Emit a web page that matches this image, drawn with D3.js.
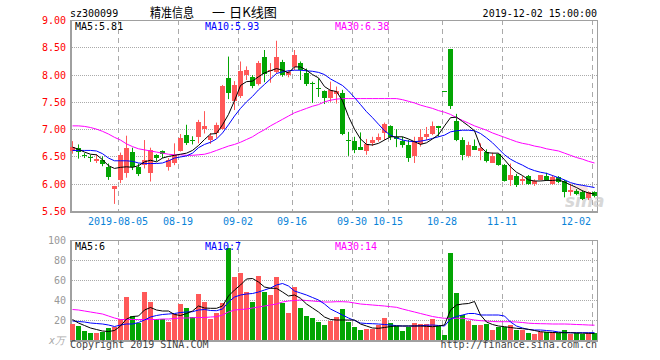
<!DOCTYPE html>
<html>
<head>
<meta charset="utf-8">
<script src="https://d3js.org/d3.v7.min.js"></script>
<style>
body{margin:0;background:#fff;}
text{font-family:"DejaVu Sans Mono","Liberation Mono",monospace;font-size:10px;}
</style>
</head>
<body>
<svg id="chart" width="660" height="360"></svg>
<script>
// trading days shown (sz300099, daily K)
const dates = [
 "2019-07-24","2019-07-25","2019-07-26","2019-07-29","2019-07-30","2019-07-31",
 "2019-08-01","2019-08-02","2019-08-05","2019-08-06","2019-08-07","2019-08-08","2019-08-09","2019-08-12","2019-08-13","2019-08-14","2019-08-15","2019-08-16","2019-08-19","2019-08-20","2019-08-21","2019-08-22","2019-08-23","2019-08-26","2019-08-27","2019-08-28","2019-08-29","2019-08-30",
 "2019-09-02","2019-09-03","2019-09-04","2019-09-05","2019-09-06","2019-09-09","2019-09-10","2019-09-11","2019-09-12","2019-09-16","2019-09-17","2019-09-18","2019-09-19","2019-09-20","2019-09-23","2019-09-24","2019-09-25","2019-09-26","2019-09-27","2019-09-30",
 "2019-10-08","2019-10-09","2019-10-10","2019-10-11","2019-10-14","2019-10-15","2019-10-16","2019-10-17","2019-10-18","2019-10-21","2019-10-22","2019-10-23","2019-10-24","2019-10-25","2019-10-28","2019-10-29","2019-10-30","2019-10-31",
 "2019-11-01","2019-11-04","2019-11-05","2019-11-06","2019-11-07","2019-11-08","2019-11-11","2019-11-12","2019-11-13","2019-11-14","2019-11-15","2019-11-18","2019-11-19","2019-11-20","2019-11-21","2019-11-22","2019-11-25","2019-11-26","2019-11-27","2019-11-28","2019-11-29",
 "2019-12-02"];

const open = [6.59,6.66,6.52,6.49,6.41,6.43,6.31,5.90,6.08,6.20,
 6.58,6.31,6.34,6.19,6.52,6.60,6.31,6.37,6.61,6.89,
 6.80,6.86,7.01,6.80,6.93,7.01,7.93,7.50,7.61,7.99,
 7.96,7.83,8.33,8.06,8.05,8.23,7.99,8.14,8.21,8.02,
 7.85,7.76,7.69,7.58,7.63,7.67,6.80,6.78,6.68,6.60,
 6.75,6.81,6.92,7.06,6.86,6.79,6.71,6.51,6.73,6.86,
 6.91,7.06,7.70,8.47,7.15,6.80,6.50,6.69,6.60,6.59,
 6.39,6.54,6.34,6.07,6.15,6.06,6.15,6.00,6.06,6.15,
 6.00,6.12,6.05,5.84,5.87,5.85,5.73,5.84];
const high = [6.78,6.72,6.56,6.53,6.54,6.50,6.37,5.96,6.57,6.88,
 6.66,6.37,6.80,6.66,6.54,6.61,6.47,6.74,6.91,7.08,
 6.87,7.17,7.33,6.93,7.12,7.81,8.33,7.88,8.24,8.15,
 7.99,8.25,8.45,8.21,8.62,8.27,8.08,8.45,8.24,8.11,
 7.87,7.93,7.71,7.87,7.78,7.72,6.95,6.86,6.94,6.82,
 6.86,6.92,7.12,7.07,7.00,6.86,6.80,6.86,7.00,7.04,
 7.14,7.06,7.70,8.47,7.28,6.85,6.77,6.81,6.74,6.63,
 6.57,6.55,6.36,6.37,6.18,6.14,6.16,6.08,6.16,6.20,
 6.16,6.14,6.07,6.00,5.90,5.88,5.86,5.86];
const low = [6.55,6.46,6.47,6.40,6.38,6.32,6.07,5.63,6.01,6.11,
 6.25,6.14,6.28,6.04,6.41,6.47,6.24,6.34,6.59,6.71,
 6.72,6.74,6.92,6.73,6.84,6.99,7.55,7.35,7.57,7.90,
 7.75,7.80,7.86,7.85,8.02,7.96,7.95,8.08,7.90,7.79,
 7.48,7.59,7.46,7.50,7.47,6.89,6.51,6.56,6.62,6.53,
 6.69,6.77,6.80,6.80,6.67,6.66,6.40,6.38,6.68,6.80,
 6.89,6.86,7.70,7.37,6.78,6.43,6.48,6.62,6.43,6.39,
 6.39,6.33,6.04,5.96,5.94,5.98,5.98,5.96,6.06,6.05,
 5.98,6.01,5.75,5.78,5.79,5.70,5.70,5.75];
const close = [6.67,6.58,6.51,6.48,6.45,6.36,6.13,5.95,6.53,6.66,
 6.30,6.19,6.43,6.62,6.47,6.54,6.43,6.52,6.84,6.75,
 6.79,7.14,7.06,6.88,7.08,7.79,7.66,7.80,8.07,8.08,
 7.80,8.21,8.02,8.08,8.33,7.99,8.05,8.36,8.08,7.82,
 7.84,7.74,7.57,7.72,7.69,6.91,6.78,6.62,6.62,6.73,
 6.81,6.86,7.09,6.85,6.83,6.71,6.48,6.79,6.86,6.92,
 7.06,7.02,7.70,7.43,6.80,6.53,6.71,6.62,6.66,6.43,
 6.51,6.34,6.05,6.16,5.98,6.09,6.00,6.05,6.16,6.07,
 6.12,6.02,5.84,5.88,5.81,5.73,5.84,5.76];

// volume, in 万 shares
const volume = [16,14,9,7.3,7.3,8.3,12.3,13.3,21,43.3,
 24,16.7,48.3,38.3,21,21,18.3,26,36,32.3,
 23.3,46,38.3,21,27.3,37.3,91.7,63.3,67.3,48.3,
 38.3,64,48.3,45,63.3,36.7,27.3,53.3,32.3,24.3,
 22.3,18.3,15,19.5,23,31,18.3,13,10,11,
 11,15,22,17,14,9,13,17,16,16,
 21,14,5,87,47.3,25,19,15,15,16,
 10,13.3,13.3,15,10,10,7,6,8,8,
 8,7,10,6,7,6,7,7];

// moving averages as drawn on the chart
const ma5 = [6.67,6.63,6.58,6.54,6.53,6.44,6.33,6.28,6.30,6.31,
 6.30,6.33,6.40,6.43,6.40,6.47,6.50,6.52,6.54,6.56,
 6.61,6.70,6.81,6.91,6.92,7.08,7.27,7.52,7.80,7.87,
 7.88,7.96,8.03,8.07,8.11,8.08,8.03,8.14,8.14,8.08,
 8.00,7.94,7.78,7.71,7.69,7.52,7.23,7.00,6.82,6.72,
 6.71,6.74,6.80,6.86,6.86,6.86,6.82,6.77,6.72,6.75,
 6.82,6.90,7.06,7.21,7.22,7.14,7.06,6.97,6.68,6.57,
 6.56,6.56,6.44,6.31,6.21,6.15,6.07,6.05,6.05,6.06,
 6.06,6.07,6.03,5.98,5.93,5.87,5.83,5.81];
const ma10 = [6.61,6.61,6.61,6.61,6.60,6.55,6.47,6.42,6.42,6.42,
 6.41,6.38,6.37,6.37,6.37,6.38,6.42,6.47,6.49,6.51,
 6.56,6.66,6.72,6.76,6.82,6.93,7.08,7.24,7.38,7.50,
 7.60,7.72,7.82,7.92,8.02,8.05,8.07,8.08,8.08,8.07,
 8.06,8.04,8.00,7.92,7.86,7.80,7.70,7.58,7.45,7.32,
 7.21,7.09,6.97,6.89,6.84,6.80,6.78,6.77,6.78,6.80,
 6.83,6.86,6.89,6.95,6.97,6.98,6.98,6.97,6.92,6.84,
 6.75,6.64,6.53,6.45,6.39,6.34,6.28,6.24,6.21,6.19,
 6.15,6.11,6.07,6.02,5.99,5.97,5.95,5.93];
const ma30 = [7.06,7.06,7.05,7.03,7.00,6.96,6.91,6.85,6.80,6.73,
 6.68,6.64,6.62,6.60,6.58,6.56,6.54,6.53,6.53,6.52,
 6.52,6.53,6.54,6.57,6.61,6.65,6.69,6.72,6.76,6.81,
 6.86,6.93,6.99,7.06,7.12,7.18,7.24,7.30,7.34,7.38,
 7.42,7.45,7.50,7.53,7.55,7.56,7.56,7.56,7.56,7.56,
 7.56,7.56,7.56,7.56,7.56,7.54,7.51,7.48,7.44,7.41,
 7.38,7.34,7.31,7.27,7.21,7.16,7.11,7.06,7.02,6.98,
 6.93,6.89,6.85,6.81,6.77,6.74,6.72,6.69,6.67,6.64,
 6.62,6.60,6.56,6.52,6.48,6.45,6.41,6.38];

const vma5 = [20.5,17,14.5,12,10.5,9,8.5,9.5,14,21,
 23.5,24,30,32.5,30,29,29,25.5,24.5,26.5,
 29,34,32,31.7,31.7,34,44,50,55,61,
 61.5,58,53,51.7,51.7,48,44,45,41.7,36,
 32,28,23,20.5,20,20,20,20,16,14,
 12,11.7,12.5,13.5,14,14,14,14,14,13.7,
 13.3,14,15,30,35,36,36.5,38.5,25,18,
 15.5,14,13.3,12.5,11.7,11.3,10.7,9.5,8.3,7.8,
 7.5,7.3,7.3,7.2,7,6.8,6.7,6.6];
const vma10 = [19,18.5,18,17,16.5,16,15,13.5,15,16,
 16,17.5,20,23,24.5,25.5,26,26.5,27.5,28,
 28.3,30,30.5,29.5,29.3,31,38,43,45,46,
 46.5,48,50,52,55,56.5,54,49,47,45,
 42.5,40,36,31,28,25,22,19.5,17,16.5,
 16.3,16,15.5,15,14.3,14,14,14,14.3,14.7,
 15,14.5,14,21,23.5,25,26.5,26.5,25,25,
 25,25,24,18,14,12,10.5,10,10,9.5,
 9,8,7.5,7.3,7.3,7.3,7.3,7.3];
const vma30 = [30.5,30,29,28,27,26,24,22,20.5,20.5,
 20.5,20.5,20.5,20.5,20.5,21,21,21.5,22,22,
 22.3,22.5,22.5,23,23.3,25,28,30,30.5,31,
 32,33,34,35,36,38,39,39.5,40,39.5,
 39,38.5,38,38,38.3,38.3,38,37,36,35.5,
 35,34.5,34,33.3,32.7,31,29.5,28,26.5,25,
 23.5,22.5,21.7,21.7,21.7,21.7,21,20,19.3,19,
 18.5,18.3,18.3,18.3,18,17.5,16.8,16.5,16.3,16.2,
 16,16,16,15.8,15.5,15.3,15,14.8];

const tickDates = ["2019-08-05","2019-08-19","2019-09-02","2019-09-16","2019-09-30","2019-10-15","2019-10-28","2019-11-11","2019-12-02"];
const tickLabels = ["2019-08-05","08-19","09-02","09-16","09-30","10-15","10-28","11-11","12-02"];
const priceTicks = [5.5,6.0,6.5,7.0,7.5,8.0,8.5,9.0];
const volTicks = [20,40,60,80,100];

var svg = d3.select('#chart');
const W = +svg.attr('width');
const H = +svg.attr('height');

const RED = '#ff5858';
const GREEN = '#03a503';
const GRID = '#aaaaaa';
const FRAME = '#a0a0a0';

const L = 70, R = 597;
const pTop = 20, pBot = 211;
const vTop = 240, vBot = 340;

const x = d3.scaleBand().domain(dates).range([L, L + 6 * dates.length]).padding(0);
const yP = d3.scaleLinear().domain([5.5, 9]).range([pBot, pTop]);
const yV = d3.scaleLinear().domain([0, 100]).range([vBot, vTop]);
const bw = x.bandwidth() - 1;
const cx = d => x(d) + bw / 2;

const render = () => {
    // header texts
    svg.append('text').text('sz300099').attr('x', 70).attr('y', 16.5).attr('fill', '#000');
    const cjk = '"Noto Sans CJK SC", sans-serif';
    svg.append('text').text('精准信息').attr('x', 150).attr('y', 17)
        .attr('textLength', 44).attr('lengthAdjust', 'spacingAndGlyphs')
        .style('font-family', cjk).style('font-size', '13px').attr('fill', '#000');
    svg.append('text').text('一').attr('x', 212).attr('y', 17)
        .style('font-family', cjk).style('font-size', '13px').attr('fill', '#000');
    svg.append('text').text('日K线图').attr('x', 229).attr('y', 17)
        .attr('textLength', 48).attr('lengthAdjust', 'spacingAndGlyphs')
        .style('font-family', cjk).style('font-size', '13px').attr('fill', '#000');
    svg.append('text').text('2019-12-02 15:00:00')
        .attr('x', 597).attr('y', 16.5).attr('text-anchor', 'end').attr('fill', '#000');

    const panels = [[pTop, pBot], [vTop, vBot]];

    // horizontal dotted grid
    svg.selectAll('.pgrid').data(priceTicks.filter(t => t > 5.5 && t < 9))
        .enter().append('line').classed('pgrid', true)
        .attr('x1', L).attr('x2', R)
        .attr('y1', d => Math.round(yP(d)) + 0.5).attr('y2', d => Math.round(yP(d)) + 0.5)
        .style('stroke', GRID).style('stroke-dasharray', '1,1');
    svg.selectAll('.vgrid').data(volTicks.filter(t => t < 100))
        .enter().append('line').classed('vgrid', true)
        .attr('x1', L).attr('x2', R)
        .attr('y1', d => Math.round(yV(d)) + 0.5).attr('y2', d => Math.round(yV(d)) + 0.5)
        .style('stroke', GRID).style('stroke-dasharray', '1,1');

    // vertical dashed date lines in both panels
    panels.forEach(p => {
        svg.append('g').selectAll('line').data(tickDates)
            .enter().append('line')
            .attr('x1', d => x(d) + 0.5).attr('x2', d => x(d) + 0.5)
            .attr('y1', p[0]).attr('y2', p[1])
            .style('stroke', GRID).style('stroke-dasharray', '5,4');
    });

    // frames
    panels.forEach(p => {
        svg.append('rect').attr('x', L + 0.5).attr('y', p[0] + 0.5)
            .attr('width', R - L).attr('height', p[1] - p[0])
            .attr('fill', 'none').style('stroke', FRAME);
        svg.append('line').attr('x1', L + 1).attr('x2', L + 1).attr('y1', p[0]).attr('y2', p[1] + 2)
            .style('stroke', FRAME).style('stroke-width', 2);
        svg.append('line').attr('x1', L).attr('x2', R + 1).attr('y1', p[1] + 1).attr('y2', p[1] + 1)
            .style('stroke', FRAME).style('stroke-width', 2);
    });

    // y labels
    svg.selectAll('.plab').data(priceTicks).enter().append('text').classed('plab', true)
        .text(d => d.toFixed(2))
        .attr('x', 66).attr('y', d => yP(d) + 4)
        .attr('text-anchor', 'end').attr('fill', '#ff0000');
    svg.selectAll('.vlab').data(volTicks).enter().append('text').classed('vlab', true)
        .text(d => d)
        .attr('x', 66).attr('y', d => yV(d) + 4)
        .attr('text-anchor', 'end').attr('fill', '#999');
    svg.append('text').text('x万').attr('x', 49).attr('y', 344)
        .attr('fill', '#aaa').style('font-style', 'italic');

    // date labels, kept inside the plot on the right
    svg.selectAll('.dlab').data(tickDates).enter().append('text').classed('dlab', true)
        .text((d, i) => tickLabels[i])
        .attr('x', (d, i) => Math.min(x(d), 591 - tickLabels[i].length * 3))
        .attr('y', 225).attr('text-anchor', 'middle').attr('fill', '#0a83d8');

    // watermark
    svg.append('ellipse').attr('cx', 579).attr('cy', 189).attr('rx', 9).attr('ry', 4)
        .attr('fill', '#f6b5b5').attr('opacity', 0.4);
    svg.append('text').text('sina').attr('x', 565).attr('y', 207)
        .style('font-family', '"DejaVu Sans", sans-serif').style('font-size', '17px')
        .style('font-style', 'italic').style('font-weight', 'bold')
        .attr('fill', '#c8c8c8').attr('opacity', 0.7);

    const up = i => close[i] > open[i];

    // candles
    const g = svg.append('g');
    g.selectAll('.wick').data(dates).enter().append('line').classed('wick', true)
        .attr('x1', d => Math.floor(cx(d)) + 0.5).attr('x2', d => Math.floor(cx(d)) + 0.5)
        .attr('y1', (d, i) => yP(high[i])).attr('y2', (d, i) => yP(low[i]))
        .style('stroke', (d, i) => up(i) ? RED : GREEN);
    g.selectAll('.body').data(dates).enter().append('rect').classed('body', true)
        .attr('x', d => x(d))
        .attr('y', (d, i) => Math.round(yP(Math.max(open[i], close[i]))))
        .attr('width', bw)
        .attr('height', (d, i) => Math.max(1, Math.round(Math.abs(yP(open[i]) - yP(close[i])))))
        .attr('fill', (d, i) => up(i) ? RED : GREEN);

    // volume bars
    g.selectAll('.vol').data(dates).enter().append('rect').classed('vol', true)
        .attr('x', d => x(d))
        .attr('y', (d, i) => Math.round(yV(volume[i])))
        .attr('width', bw)
        .attr('height', (d, i) => vBot - Math.round(yV(volume[i])))
        .attr('fill', (d, i) => up(i) ? RED : GREEN);

    // moving average lines
    const lineP = d3.line().x((d, i) => cx(dates[i])).y(d => yP(d));
    const lineV = d3.line().x((d, i) => cx(dates[i])).y(d => yV(d));
    [[ma30, '#ff00ff'], [ma10, '#0000ff'], [ma5, '#000000']].forEach(m => {
        svg.append('path').attr('d', lineP(m[0])).attr('fill', 'none')
            .style('stroke', m[1]).style('stroke-width', 1);
    });
    [[vma30, '#ff00ff'], [vma10, '#0000ff'], [vma5, '#000000']].forEach(m => {
        svg.append('path').attr('d', lineV(m[0])).attr('fill', 'none')
            .style('stroke', m[1]).style('stroke-width', 1);
    });

    // legends
    const last = dates.length - 1;
    svg.append('text').text('MA5:' + ma5[last].toFixed(2)).attr('x', 75).attr('y', 29.5).attr('fill', '#000');
    svg.append('text').text('MA10:' + ma10[last].toFixed(2)).attr('x', 205).attr('y', 29.5).attr('fill', '#0000ff');
    svg.append('text').text('MA30:' + ma30[last].toFixed(2)).attr('x', 335).attr('y', 29.5).attr('fill', '#ff00ff');
    svg.append('text').text('MA5:' + Math.floor(vma5[last])).attr('x', 75).attr('y', 249.5).attr('fill', '#000');
    svg.append('text').text('MA10:' + Math.floor(vma10[last])).attr('x', 205).attr('y', 249.5).attr('fill', '#0000ff');
    svg.append('text').text('MA30:' + Math.floor(vma30[last])).attr('x', 335).attr('y', 249.5).attr('fill', '#ff00ff');

    // footer
    svg.append('text').text('Copyright 2019 SINA.COM').attr('x', 70).attr('y', 348).attr('fill', '#444');
    svg.append('text').text('http://finance.sina.com.cn').attr('x', 597).attr('y', 348)
        .attr('text-anchor', 'end').attr('fill', '#444');
}

render();
</script>
</body>
</html>
